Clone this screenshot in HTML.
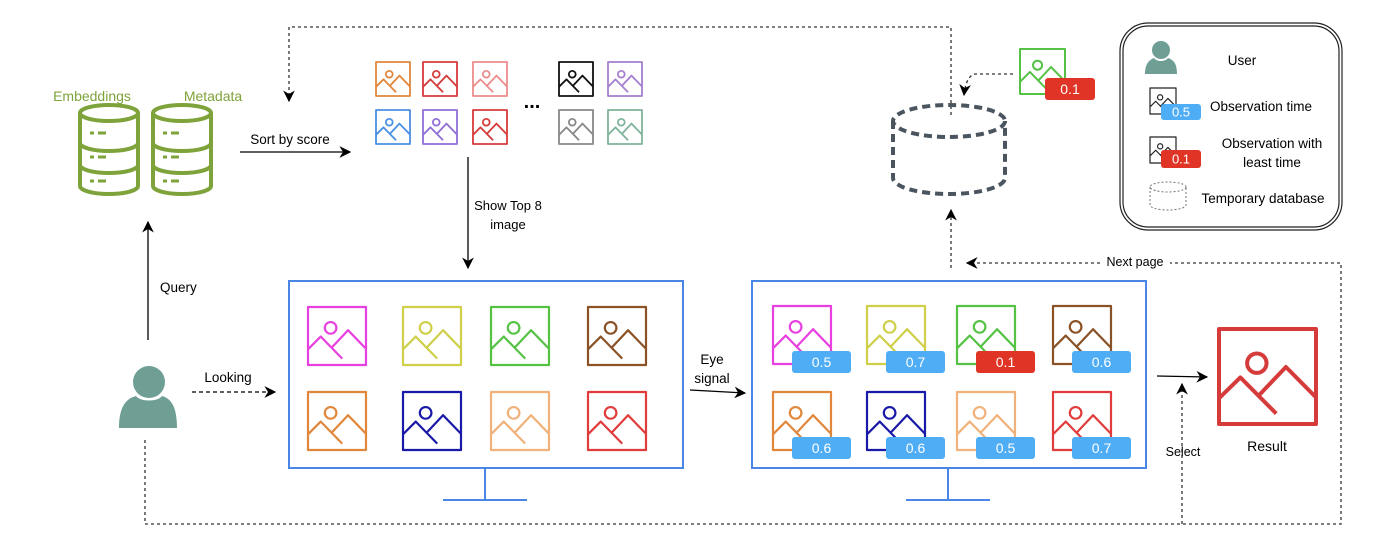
<!DOCTYPE html>
<html><head><meta charset="utf-8"><style>
html,body{margin:0;padding:0;background:#fff;}
svg{display:block;font-family:"Liberation Sans",sans-serif;}
</style></head><body>
<svg id="s" width="1400" height="554" viewBox="0 0 1400 554" xmlns="http://www.w3.org/2000/svg">
<defs>
<marker id="ah" viewBox="0 0 10 10" refX="9" refY="5" markerWidth="9" markerHeight="9" orient="auto"><path d="M0,0 L10,5 L0,10 L3,5 z" fill="#000"/></marker>
</defs>
<g id="db"></g>
<text x="92" y="101" font-size="14" fill="#7ea33a" text-anchor="middle">Embeddings</text>
<text x="213" y="101" font-size="14" fill="#7ea33a" text-anchor="middle">Metadata</text>

<line x1="240" y1="152" x2="350" y2="152" stroke="#000" stroke-width="1.3" marker-end="url(#ah)"/>
<text x="290" y="144" font-size="13.5" text-anchor="middle">Sort by score</text>

<path d="M951,115 V27 H289 V101" fill="none" stroke="#333" stroke-width="1.3" stroke-dasharray="3,3" marker-end="url(#ah)"/>
<g id="topgrid"></g>
<text x="532" y="108" font-size="20" font-weight="bold" text-anchor="middle">...</text>

<line x1="468" y1="157" x2="468" y2="268" stroke="#000" stroke-width="1.3" marker-end="url(#ah)"/>
<text x="508" y="210" font-size="13" text-anchor="middle">Show Top 8</text>
<text x="508" y="229" font-size="13" text-anchor="middle">image</text>

<line x1="148" y1="340" x2="148" y2="222" stroke="#000" stroke-width="1.3" marker-end="url(#ah)"/>
<text x="160" y="292" font-size="13.5">Query</text>

<g fill="#6f9e95"><circle cx="149" cy="382" r="16"/><path d="M119,428 C119,410 124,399 136,396 C140,402 158,402 162,396 C173,399 177,410 177,428 Z"/></g>

<line x1="192" y1="392" x2="275" y2="392" stroke="#000" stroke-width="1.3" stroke-dasharray="4,3" marker-end="url(#ah)"/>
<text x="228" y="382" font-size="13.5" text-anchor="middle">Looking</text>

<g><rect x="289" y="281" width="394" height="187" fill="none" stroke="#4a86e8" stroke-width="2"/><path d="M485,468 V500 M443,500 H527" stroke="#4a86e8" stroke-width="2"/></g>
<g><rect x="752" y="281" width="394" height="187" fill="none" stroke="#4a86e8" stroke-width="2"/><path d="M948,468 V500 M906,500 H990" stroke="#4a86e8" stroke-width="2"/></g>
<g id="mon1"></g>
<g id="mon2"></g>

<text x="712" y="364" font-size="13.5" text-anchor="middle">Eye</text>
<text x="712" y="383" font-size="13.5" text-anchor="middle">signal</text>
<line x1="690" y1="390" x2="745" y2="393" stroke="#000" stroke-width="1.3" marker-end="url(#ah)"/>

<path d="M145,440 V524 H1341 V263 H967" fill="none" stroke="#333" stroke-width="1.3" stroke-dasharray="3,3" marker-end="url(#ah)"/>
<rect x="1100" y="254" width="70" height="16" fill="#fff"/>
<text x="1135" y="266" font-size="12.5" text-anchor="middle">Next page</text>
<line x1="951" y1="268" x2="951" y2="210" stroke="#333" stroke-width="1.3" stroke-dasharray="3,3" marker-end="url(#ah)"/>

<line x1="1157" y1="376" x2="1207" y2="377" stroke="#000" stroke-width="1.3" marker-end="url(#ah)"/>
<line x1="1182" y1="524" x2="1182" y2="384" stroke="#333" stroke-width="1.3" stroke-dasharray="3,3" marker-end="url(#ah)"/>
<text x="1183" y="456" font-size="12.5" text-anchor="middle">Select</text>
<g id="result"></g>
<text x="1267" y="451" font-size="14" text-anchor="middle">Result</text>

<g fill="none" stroke="#4a5560" stroke-width="4" stroke-dasharray="8,5">
<ellipse cx="949" cy="121" rx="56" ry="16"/><path d="M893,121 V178 A56,16 0 0 0 1005,178 V121"/></g>
<path d="M1013,74 H975 Q966,76 964,95" fill="none" stroke="#333" stroke-width="1.3" stroke-dasharray="3,3" marker-end="url(#ah)"/>
<g id="evict"></g>

<g>
<rect x="1120" y="23" width="222" height="207" rx="28" fill="none" stroke="#222" stroke-width="1.2"/>
<rect x="1123" y="26" width="216" height="201" rx="25" fill="none" stroke="#222" stroke-width="1.2"/>
<g fill="#6f9e95"><circle cx="1161" cy="50" r="9"/><path d="M1145,74 C1145,64 1149,60 1154,58 C1157,62 1165,62 1168,58 C1174,60 1177,64 1177,74 Z"/></g>
<text x="1242" y="65" font-size="13.5" text-anchor="middle">User</text>
<g id="leg"></g>
<text x="1210" y="111" font-size="13.5">Observation time</text>
<text x="1272" y="148" font-size="13.5" text-anchor="middle">Observation with</text>
<text x="1272" y="167" font-size="13.5" text-anchor="middle">least time</text>
<g fill="none" stroke="#777" stroke-width="1" stroke-dasharray="2,2"><ellipse cx="1168" cy="187" rx="18" ry="5"/><path d="M1150,187 V205 A18,5 0 0 0 1186,205 V187"/></g>
<text x="1263" y="203" font-size="13.5" text-anchor="middle">Temporary database</text>
</g>
</svg>
<script>
const topColors=["#e0873c","#d63b3b","#ec8c8c","#111111","#a57fcf","#4a90e2","#8e6fd6","#d63b3b","#888888","#7fb49a"];
const monColors=["#e83fe0","#cfcf4a","#55c246","#8a5226","#e0873c","#1a1aa8","#f0b27a","#e03c3c"];
const scores=[0.5,0.7,0.1,0.6,0.6,0.6,0.5,0.7];
const NS="http://www.w3.org/2000/svg";
function el(t,a,p){const e=document.createElementNS(NS,t);for(const k in a)e.setAttribute(k,a[k]);p.appendChild(e);return e;}
function icon(p,x,y,w,h,c,sw){
  const g=el('g',{fill:'none',stroke:c,'stroke-width':sw,'stroke-linejoin':'round'},p);
  
  
  el('rect',{x:x,y:y,width:w,height:h},g);
  el('circle',{cx:x+0.39*w,cy:y+0.36*h,r:0.1*w},g);
  el('polyline',{points:`${x},${y+0.73*h} ${x+0.22*w},${y+0.51*h} ${x+0.59*w},${y+0.89*h}`},g);
  el('polyline',{points:`${x+0.4*w},${y+0.71*h} ${x+0.69*w},${y+0.4*h} ${x+w},${y+0.72*h}`},g);
}
function badge(p,x,y,w,h,v,red,fs){
  const r=el('rect',{x:x,y:y,width:w,height:h,rx:3,fill:red?'#e03426':'#4fadf5'},p);
  
  
  const t=el('text',{x:x+w/2,y:y+h/2+fs*0.36,'font-size':fs,fill:'#fff','text-anchor':'middle'},p);
  t.textContent=v;
}
// databases
const db=document.getElementById('db');
[80,153].forEach(x=>{
  const g=el('g',{fill:'none',stroke:'#7ea33a','stroke-width':4},db);
  
  
  const w=58,cx=x+w/2;
  el('ellipse',{cx:cx,cy:113,rx:w/2,ry:8},g);
  el('path',{d:`M${x},113 V186 A${w/2},8 0 0 0 ${x+w},186 V113`},g);
  el('path',{d:`M${x},143 A${w/2},8 0 0 0 ${x+w},143 M${x},165 A${w/2},8 0 0 0 ${x+w},165`},g);
  [133,157,181].forEach(y=>el('path',{d:`M${x+10},${y} h4 M${x+18},${y} h8`,'stroke-width':3},g));
});
// top grid
const tg=document.getElementById('topgrid');
const tx=[376,423,473,559,608];
topColors.forEach((c,i)=>icon(tg,tx[i%5],i<5?62:110,34,34,c,1.8));
// monitor 1
const m1=document.getElementById('mon1');
const m1x=[308,403,491,588];
monColors.forEach((c,i)=>icon(m1,m1x[i%4],i<4?307:392,58,58,c,2.2));
// monitor 2
const m2=document.getElementById('mon2');
const m2x=[773,867,957,1053];
const minS=Math.min(...scores);
monColors.forEach((c,i)=>{
  const x=m2x[i%4],y=i<4?306:392;
  icon(m2,x,y,58,58,c,2.2);
  badge(m2,x+19,y+45,59,22,scores[i].toFixed(1),scores[i]===minS,14);
});
// result
icon(document.getElementById('result'),1219,329,97,95,'#d63b3b',4);
// evicted
const ev=document.getElementById('evict');
icon(ev,1020,49,45,45,'#55c246',2);
badge(ev,1045,78,50,22,minS.toFixed(1),true,14);
// legend icons
const lg=document.getElementById('leg');
icon(lg,1150,88,26,26,'#222',1.2);
badge(lg,1161,104,40,16,'0.5',false,13);
icon(lg,1150,137,26,26,'#222',1.2);
badge(lg,1161,150,40,18,'0.1',true,13);
</script>
</body></html>
